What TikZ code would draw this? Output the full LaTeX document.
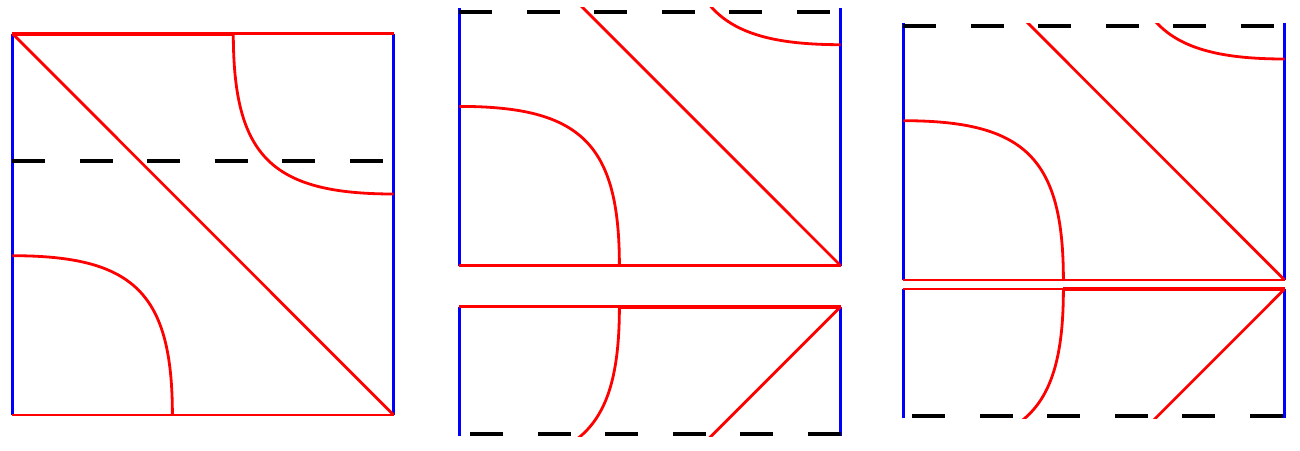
\documentclass[tikz,border=0pt]{standalone}
\begin{document}
\begin{tikzpicture}[x=0.5pt,y=-0.5pt,
  redline/.style={draw=red,line width=1.4pt},
  redthick/.style={draw=red,line width=2pt},
  blueline/.style={draw=blue,line width=1.4pt},
  dashline/.style={draw=black,line width=2pt,dash pattern=on 16.5pt off 17.25pt}]
\useasboundingbox (0,0) rectangle (1300,450);
\newcommand\sqcurves{%
  \draw[redline] (12.3,33.5) -- (393.7,415);
  \draw[redline] (12.3,255.7) .. controls (134,255.7) and (172.4,293) .. (172.4,415);
  \draw[redline] (233.3,33.5) .. controls (233.3,156) and (271,194) .. (393.7,194);
}
% ---------- panel 1 : full square ----------
\draw[blueline] (12.3,33.5) -- (12.3,415);
\draw[blueline] (393.7,33.5) -- (393.7,415);
\draw[redline] (12.3,415) -- (393.7,415);
\draw[redline] (233.3,33.5) -- (393.7,33.5);
\draw[redthick] (12.3,33.5) -- (233.3,33.5);
\sqcurves
\draw[dashline] (12.3,161) -- (393.7,161);
% ---------- panel 2 top ----------
\begin{scope}[shift={(447,-149.3)}]
  \clip (-20,156.5) rectangle (420,440);
  \draw[blueline] (12.3,157.5) -- (12.3,415);
  \draw[blueline] (393.7,157.5) -- (393.7,415);
  \draw[redline] (12.3,415) -- (393.7,415);
  \sqcurves
  \draw[dashline] (12.3,161) -- (393.7,161);
\end{scope}
% ---------- panel 2 bottom (reflected) ----------
\begin{scope}[shift={(447,721.7)},yscale=-1]
  \clip (-20,285.7) rectangle (420,440);
  \draw[blueline] (12.3,285.7) -- (12.3,415);
  \draw[blueline] (393.7,285.7) -- (393.7,415);
  \draw[redline] (12.3,415) -- (172.4,415);
  \draw[redthick] (172.4,415) -- (393.7,415);
  \sqcurves
  \draw[dashline] (393.7,287.4) -- (12.3,287.4);
\end{scope}
% ---------- panel 3 top ----------
\begin{scope}[shift={(891,-135)}]
  \clip (-20,158) rectangle (420,440);
  \draw[blueline] (12.3,158) -- (12.3,415);
  \draw[blueline] (393.7,158) -- (393.7,415);
  \draw[redline] (12.3,415) -- (393.7,415);
  \sqcurves
  \draw[dashline] (12.3,161) -- (393.7,161);
\end{scope}
% ---------- panel 3 bottom (reflected) ----------
\begin{scope}[shift={(891,704)},yscale=-1]
  \clip (-20,285.7) rectangle (420,440);
  \draw[blueline] (12.3,285.7) -- (12.3,415);
  \draw[blueline] (393.7,285.7) -- (393.7,415);
  \draw[redline] (12.3,415) -- (172.4,415);
  \draw[redthick] (172.4,415) -- (393.7,415);
  \sqcurves
  \draw[dashline] (391.5,288) -- (12.3,288);
\end{scope}
\end{tikzpicture}
\end{document}
